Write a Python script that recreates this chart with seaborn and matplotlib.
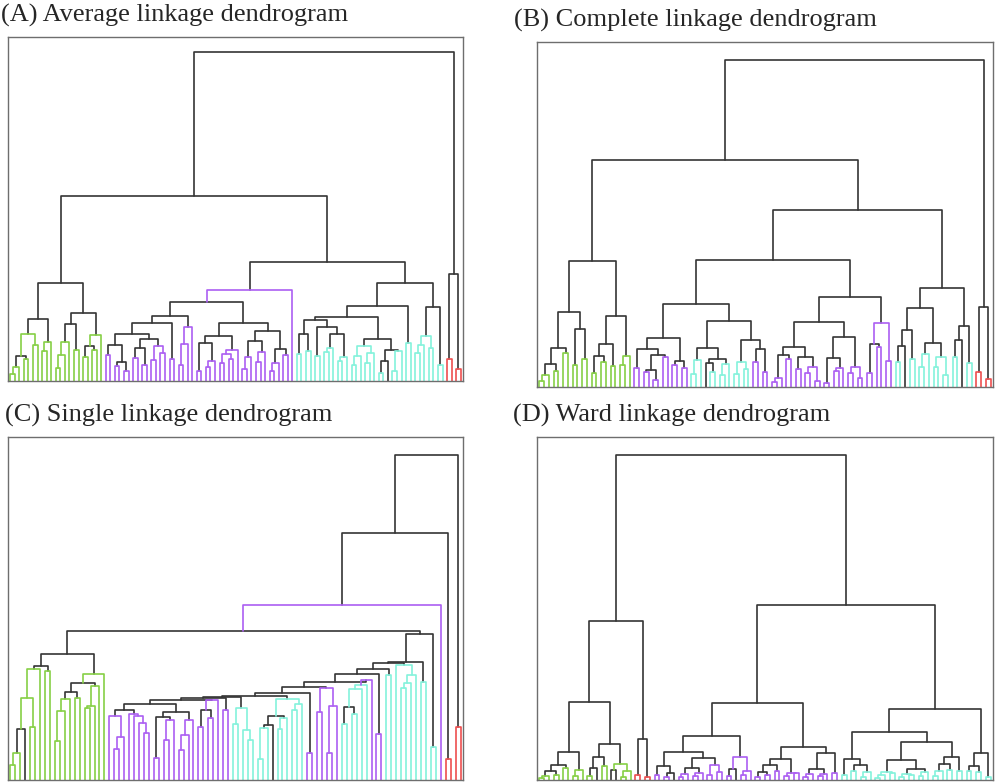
import matplotlib
matplotlib.use("Agg")
import matplotlib.pyplot as plt
import seaborn as sns
import pandas as pd

# ---------------- data: dendrogram merge trees (height in px above baseline, colour code) ----
# leaf = x ; node = (left,right)height[colour]  colour: g green, p purple, c cyan, r red, none = black
A_G1 = "(((((x,x)7g,x)14g,(x,x)22g)25,(x,x)36g)47g,((x,x)30g,x)39g)62"
A_G2a = "((((x,x)13g,x)26g,x)39g,(x,x)31g)57"
A_G2b = "(((x,x)24g,(x,x)31g)35,x)46g"
A_PLa1a = "((x,x)26p,((x,x)15p,(x,x)10p)19)36"
A_PLa1b = "(((x,x)23p,(x,x)16p)33,((x,x)21p,(x,x)28p)35p)42"
A_PR1 = "(((x,x)10p,((x,x)14p,x)20p)38,(((x,x)18p,(x,x)22p)27p,x)31p)45"
A_PR2 = "((((x,x)12p,x)24p,((x,x)19p,x)29p)40,(((x,x)10p,x)18p,(x,x)26p)32)50"
A_C1aL = "(((x,x)27c,(x,x)30c)47,((x,x)25c,(((x,x)29c,x)33c,((x,x)20c,x)24c)47)54)61"
A_C1aR = "((((x,x)16c,x)25c,((x,x)18c,x)28c)35c,(((x,x)8c,x)20,((x,x)10c,x)30c)31)42"
A_C2 = "((((x,x)28c,x)36c,(x,x)33c)45c,(x,x)16c)74"
A_RED = "((x,x)22r,(x,x)12r)107"

B_G1 = "(((((x,x)6g,x)12g,(x,x)16g)23,(x,x)34g)39,((x,x)22g,(x,x)28g)58)75"
B_G2 = "((((x,x)14g,(x,x)25g)31,(x,x)21g)43,((x,x)22g,x)31g)71"
B_M1a = "(((x,x)19p,(((x,x)15p,(x,x)7p)17,(x,x)30p)32)38,((x,x)22p,(x,x)19p)26)49"
B_M1b = "((((x,x)13c,x)27c,((x,(x,x)15c)24,((x,x)12c,x)23c)28)39,(((x,x)13c,(x,x)18c)25c,((x,x)25p,(x,x)15p)38)47)66"
B_M2a = "(((((x,x)5p,x)9p,(x,x)28p)32,((x,x)18p,((x,x)14p,(x,x)6p)20p)30)40,(((x,x)4p,((x,x)16p,x)19p)29,((x,x)14p,(x,x)9p)20p)50)65"
B_M2b = "(((x,x)14p,(x,x)40p)43,(x,x)26p)64p"
B_C1 = "((((x,x)25c,x)41,(x,x)28c)57,(((x,x)20c,x)33c,((x,x)20c,(x,x)12c)30c)44)79"
B_C2 = "(((x,x)30c,x)47,(x,x)24c)61"
B_RED = "((x,x)15r,(x,x)8r)80"

C_G1 = "(((((x,x)15g,x)27g,x)51,(x,x)53g)82g,x)111g"
C_G1b = "(x,x)109g"
C_G2a1 = "((((x,x)39g,x)69g,x)81g,(x,x)82g)88"
C_G2a2 = "(((x,x)72g,x)74g,x)94g"
C_CHAIN = ["(x,((x,x)31p,x)43p)64p",
           "(x,(x,(x,(x,x)47p)57p)64p)66p",
           "(((x,x)22p,((x,x)40p,x)60p)63,(((x,x)30p,x)45p,x)60p)68",
           "(((x,x)53p,(x,x)62p)70,x)80p",
           "(x,x)70p",
           "((x,x)56c,(x,(x,x)40c)50c)72c",
           "(((((x,x)21c,x)52c,x)55,((x,x)51c,x)62c)64,((x,x)70c,x)76c)81c",
           "(x,x)27p",
           "((x,x)68p,((x,x)27p,x)74p)92p",
           "(((((x,x)56c,(x,x)66c)73,x)91c,x)95c,x)100p",
           "(x,x)46p",
           "(x,x)105c",
           "(x,(((x,x)92c,x)97c,x)105c)115c",
           "(x,x)98c",
           "(x,x)33c"]
C_JOIN = [70, 76, 80, 82, 83, 84, 87, 93, 98, 106, 111, 117, 118, 146]
C_RED1 = "(x,x)21r"
C_RED2 = "(x,x)53r"

D_G1 = "(((((x,x)2g,x)4g,(x,x)5g)9,(x,x)12g)15,((x,x)4g,x)10g)28"
D_G2 = "((((x,x)4g,x)12,(x,x)14g)23,((x,x)10,((x,x)3g,x)9g)16g)36"
D_RED = "((x,x)5r,(x,x)3r)41"
D_RL1a = "(((x,x)5p,((x,x)3p,x)7)14,((((x,x)3p,x)6p,((x,x)4p,x)7p)12,((x,x)5p,(x,x)8p)15p)22)28"
D_RL1b = "(((x,x)4p,x)11,((x,x)5p,x)9p)23p"
D_RL2a = "((((x,x)3p,(x,x)5p)8,(x,x)9p)15,((x,x)4p,(x,x)7p)7p)21"
D_RL2b = "((((x,x)3p,x)6p,((x,x)4p,x)6p)11,(x,x)7p)27"
D_RR1a = "((x,x)5c,((x,x)9c,((x,x)3c,x)8c)15)21"
D_D1 = "((((x,x)2c,x)5c,(x,x)7c)8c,(((x,x)3c,(x,x)5c)6c,((x,x)4c,x)8c)11)20"
D_D2 = "((((x,x)4c,x)9c,(x,x)10c)16,(x,x)9c)23"
D_RR2 = "(((x,x)9c,(x,x)8c)14,(x,x)3c)27"

TITLES = ["(A) Average linkage dendrogram", "(B) Complete linkage dendrogram",
          "(C) Single linkage dendrogram", "(D) Ward linkage dendrogram"]

# ---------------- assemble trees ----------------
A_GREEN = f"({A_G1},({A_G2a},{A_G2b})68)98"
A_PL = f"((({A_PLa1a},{A_PLa1b})47,(x,x)22p)58,(((x,x)16p,x)37p,x)54p)65"
A_PURPLE = f"(({A_PL},({A_PR1},{A_PR2})58)79,x)91p"
A_CYAN = f"((({A_C1aL},{A_C1aR})64,(x,x)38c)75,{A_C2})98"
TREE_A = f"(({A_GREEN},({A_PURPLE},{A_CYAN})119)185,{A_RED})329"

B_GREEN = f"({B_G1},{B_G2})126"
B_MID = f"(({B_M1a},{B_M1b})83,({B_M2a},{B_M2b})90)127"
B_CYAN = f"({B_C1},{B_C2})99"
TREE_B = f"(({B_GREEN},({B_MID},{B_CYAN})177)227,{B_RED})327"

C_GREEN = f"(({C_G1},{C_G1b})114,(({C_G2a1},{C_G2a2})97,x)106g)126"
chain = C_CHAIN[0]
for e, h in zip(C_CHAIN[1:], C_JOIN):
    chain = f"({chain},{e}){h}"
TREE_C = f"(((({C_GREEN},{chain})149,x)175p,{C_RED1})247,{C_RED2})325"

D_GREEN = f"({D_G1},{D_G2})78"
D_RL = f"(({D_RL1a},{D_RL1b})44,({D_RL2a},{D_RL2b})33)77"
D_RR = f"(({D_RR1a},({D_D1},{D_D2})38)48,{D_RR2})71"
TREE_D = f"(({D_GREEN},{D_RED})159,({D_RL},{D_RR})175)325"


def parse(s):
    s = s.replace(" ", "")
    pos = 0

    def node():
        nonlocal pos
        if s[pos] == "x":
            pos += 1
            return None
        assert s[pos] == "(", (s[pos:pos + 20], pos)
        pos += 1
        left = node()
        assert s[pos] == ",", (s[pos:pos + 20], pos)
        pos += 1
        right = node()
        assert s[pos] == ")", (s[pos:pos + 20], pos)
        pos += 1
        num = ""
        while pos < len(s) and (s[pos].isdigit() or s[pos] == "."):
            num += s[pos]
            pos += 1
        col = "k"
        if pos < len(s) and s[pos] in "gpcr":
            col = s[pos]
            pos += 1
        return (left, right, float(num), col)

    t = node()
    assert pos == len(s)
    return t


def links_of(tree):
    rows = []
    counter = [0]
    lid = [0]

    def walk(t):
        if t is None:
            x = 5 + 10 * counter[0]
            counter[0] += 1
            return x, 0.0
        l, r, h, c = t
        xl, hl = walk(l)
        xr, hr = walk(r)
        k = lid[0]
        lid[0] += 1
        for px, py in [(xl, hl), (xl, h), (xr, h), (xr, hr)]:
            rows.append((px, py, k, c))
        return (xl + xr) / 2, h

    walk(tree)
    return pd.DataFrame(rows, columns=["x", "y", "link", "col"]), counter[0]


PAL = {"k": "#353535", "g": "#86d045", "p": "#ac5ff2", "c": "#84f2dc", "r": "#ee4f4f"}

W, H = 996, 782
fig = plt.figure(figsize=(W / 100, H / 100), dpi=100)
sns.set_style("white")
plt.rcParams["font.family"] = ["Liberation Serif", "DejaVu Serif"]

# frame boxes in pixels: left, top, right, bottom
BOXES = [(8, 37, 463, 381), (537, 42, 993, 387), (8, 437, 463, 780), (537, 437, 993, 780)]
TITLE_POS = [(1, 15), (514, 20), (5, 415), (513, 415)]

for tree_s, box, title, tp in zip([TREE_A, TREE_B, TREE_C, TREE_D], BOXES, TITLES, TITLE_POS):
    l, t, r, b = box
    ax = fig.add_axes([l / W, 1 - b / H, (r - l) / W, (b - t) / H])
    df, n = links_of(parse(tree_s))
    for code in ["k", "c", "p", "g", "r"]:
        sub = df[df["col"] == code]
        if len(sub) == 0:
            continue
        sns.lineplot(data=sub, x="x", y="y", units="link", estimator=None, sort=False,
                     color=PAL[code], linewidth=1.2, ax=ax, legend=False)
    ax.set_xlim(0, 10 * n)
    ax.set_ylim(0, b - t)
    ax.set_xticks([])
    ax.set_yticks([])
    ax.set_xlabel("")
    ax.set_ylabel("")
    for sp in ax.spines.values():
        sp.set_visible(True)
        sp.set_color("#6e6e6e")
        sp.set_linewidth(1.0)
    fig.text(tp[0] / W, 1 - tp[1] / H, title, fontsize=19, ha="left", va="center",
             family=["Liberation Serif", "DejaVu Serif"])

fig.savefig("out.png", dpi=100)
